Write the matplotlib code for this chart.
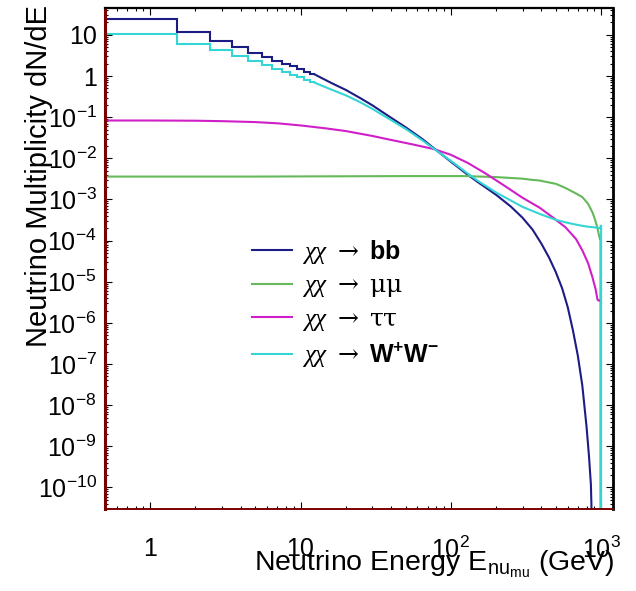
import matplotlib
matplotlib.use("Agg")
import matplotlib.pyplot as plt
from matplotlib.ticker import FixedLocator, FixedFormatter, LogLocator, NullFormatter

plt.rcParams['font.family'] = ['Liberation Sans', 'DejaVu Sans']
plt.rcParams['mathtext.fontset'] = 'custom'
plt.rcParams['mathtext.rm'] = 'Liberation Sans'
plt.rcParams['mathtext.it'] = 'Liberation Sans:italic'
plt.rcParams['mathtext.bf'] = 'Liberation Sans:bold'
plt.rcParams['mathtext.tt'] = 'DejaVu Serif'
plt.rcParams['mathtext.cal'] = 'Liberation Serif:italic'
plt.rcParams['mathtext.default'] = 'rm'

# ---- low-energy histogram bins (1 GeV wide, centred on integer energies) ----
bin_centers = [1, 2, 3, 4, 5, 6, 7, 8, 9, 10, 11, 12]
bb_bins = [24.0, 12.0, 7.2, 5.0, 3.6, 2.85, 2.36, 2.0, 1.72, 1.48, 1.28, 1.12]
ww_bins = [10.5, 6.1, 4.4, 3.1, 2.36, 1.85, 1.48, 1.25, 1.07, 0.93, 0.81, 0.71]

# ---- spectra above the binned region (GeV, dN/dE) ----
bb_energy = [12.5, 16, 20, 25, 30, 40, 50, 65, 80, 100, 125, 150, 200, 250, 300,
             350, 400, 450, 500, 550, 600, 650, 700, 750, 800, 830, 855, 862, 862]
bb_dnde = [1.08, 0.68, 0.46, 0.29, 0.195, 0.097, 0.057, 0.029, 0.0158, 0.0083,
           0.0044, 0.0027, 0.0013, 6.8e-4, 3.6e-4, 1.85e-4, 8.5e-5, 3.9e-5, 1.7e-5,
           7.0e-6, 2.4e-6, 6.5e-7, 1.6e-7, 3.0e-8, 3.0e-9, 6.0e-10, 1.2e-10, 4.0e-11, 0.0]

ww_energy = [12.5, 16, 20, 25, 30, 40, 50, 65, 80, 100, 125, 150, 200, 250, 300,
             400, 500, 600, 700, 800, 900, 990, 992, 1000, 1000]
ww_dnde = [0.68, 0.47, 0.34, 0.23, 0.16, 0.085, 0.052, 0.027, 0.0155, 0.0087,
           0.0047, 0.0029, 0.00148, 9.5e-4, 6.6e-4, 4.3e-4, 3.2e-4, 2.7e-4, 2.4e-4,
           2.2e-4, 2.1e-4, 2.0e-4, 2.3e-4, 2.3e-4, 0.0]

tau_energy = [0.5, 1, 2, 3, 5, 7, 10, 15, 20, 30, 40, 55, 77, 100, 130, 170, 230,
              300, 390, 480, 580, 680, 750, 820, 875, 920, 946, 960, 975]
tau_dnde = [0.083, 0.083, 0.082, 0.080, 0.076, 0.071, 0.063, 0.053, 0.046, 0.035,
            0.028, 0.022, 0.0168, 0.0122, 0.0077, 0.0043, 0.0021, 0.0011, 6.3e-4,
            3.6e-4, 2.1e-4, 1.1e-4, 5.8e-5, 2.8e-5, 1.3e-5, 6.5e-6, 3.7e-6, 3.5e-6, 3.5e-6]

mu_energy = [0.5, 5, 50, 125, 200, 300, 347, 386, 500, 580, 680, 751, 820, 875,
             910, 946, 970, 990, 1000]
mu_dnde = [0.0036, 0.0036, 0.0037, 0.0037, 0.0035, 0.0032, 0.0030, 0.0029, 0.0024,
           0.0019, 0.0014, 0.00114, 7.8e-4, 4.9e-4, 3.3e-4, 2.0e-4, 1.3e-4, 1.0e-4, 0.0]

channel_labels = [r'$\mathcal{\chi\chi}\ \mathtt{{\rightarrow}}\ \mathbf{bb}$',
                  r'$\mathcal{\chi\chi}\ \mathtt{{\rightarrow}\ \mu\mu}$',
                  r'$\mathcal{\chi\chi}\ \mathtt{{\rightarrow}\ \tau\tau}$',
                  r'$\mathcal{\chi\chi}\ \mathtt{{\rightarrow}}\ \mathbf{W^{+}W^{-}}$']

x_ticks = [1, 10, 100, 1000]
x_ticklabels = ['1', '10', r'$10^{2}$', r'$10^{3}$']
y_ticks = [1e-10, 1e-9, 1e-8, 1e-7, 1e-6, 1e-5, 1e-4, 1e-3, 1e-2, 1e-1, 1, 10]
y_ticklabels = [r'$10^{-10}$', r'$10^{-9}$', r'$10^{-8}$', r'$10^{-7}$', r'$10^{-6}$',
                r'$10^{-5}$', r'$10^{-4}$', r'$10^{-3}$', r'$10^{-2}$', r'$10^{-1}$',
                '1', '10']

col_bb = '#1c1c85'
col_mu = '#66b95a'
col_tau = '#d01fc8'
col_ww = '#35d5d5'

fig = plt.figure(figsize=(6.36, 5.91), dpi=100)
ax = fig.add_axes([105 / 636, 82 / 591, 508 / 636, 501 / 591])
ax.set_xscale('log')
ax.set_yscale('log')

lw = 1.5
edges = [c - 0.5 for c in bin_centers] + [bin_centers[-1] + 0.5]

ax.stairs(bb_bins, edges, color=col_bb, lw=lw, baseline=None)
h_bb, = ax.plot(bb_energy, bb_dnde, color=col_bb, lw=lw)
h_mu, = ax.plot(mu_energy, mu_dnde, color=col_mu, lw=lw)
h_tau, = ax.plot(tau_energy, tau_dnde, color=col_tau, lw=lw)
ax.stairs(ww_bins, edges, color=col_ww, lw=lw, baseline=None)
h_ww, = ax.plot(ww_energy, ww_dnde, color=col_ww, lw=lw)

ax.set_xlim(0.5, 1200)
ax.set_ylim(3e-11, 45)

ax.xaxis.set_major_locator(FixedLocator(x_ticks))
ax.xaxis.set_major_formatter(FixedFormatter(x_ticklabels))
ax.xaxis.set_minor_locator(LogLocator(base=10, subs=range(2, 10), numticks=50))
ax.xaxis.set_minor_formatter(NullFormatter())
ax.yaxis.set_major_locator(FixedLocator(y_ticks))
ax.yaxis.set_major_formatter(FixedFormatter(y_ticklabels))
ax.yaxis.set_minor_locator(LogLocator(base=10, subs=range(2, 10), numticks=50))
ax.yaxis.set_minor_formatter(NullFormatter())

ax.tick_params(which='both', direction='in', top=True, right=True, width=0.8)
ax.tick_params(which='major', length=5)
ax.tick_params(which='minor', length=2.5)
ax.tick_params(axis='x', which='major', labelsize=18, pad=20)
ax.tick_params(axis='y', which='major', labelsize=18, pad=6)

ax.spines['left'].set_color('#7a0000')
ax.spines['left'].set_linewidth(2.2)
ax.spines['bottom'].set_color('#7a0000')
ax.spines['bottom'].set_linewidth(1.4)
ax.spines['top'].set_linewidth(1.6)
ax.spines['right'].set_linewidth(2.0)

fig.text(39 / 636, 1 - 5 / 591, 'Neutrino Multiplicity dN/dE', rotation=90,
         ha='center', va='top', fontsize=21)
fig.text(614 / 636, 1 - 570 / 591,
         r'Neutrino Energy E$_{\mathrm{nu}_{\mathrm{mu}}}$ (GeV)',
         ha='right', va='baseline', fontsize=20.5)

ax.legend([h_bb, h_mu, h_tau, h_ww], channel_labels, loc='upper left',
          bbox_to_anchor=(252 / 636, 1 - 238 / 591), bbox_transform=fig.transFigure,
          frameon=False, fontsize=18, borderpad=0, borderaxespad=0,
          handlelength=1.6, handletextpad=0.4, labelspacing=0.3)

fig.savefig('out.png', dpi=100)
